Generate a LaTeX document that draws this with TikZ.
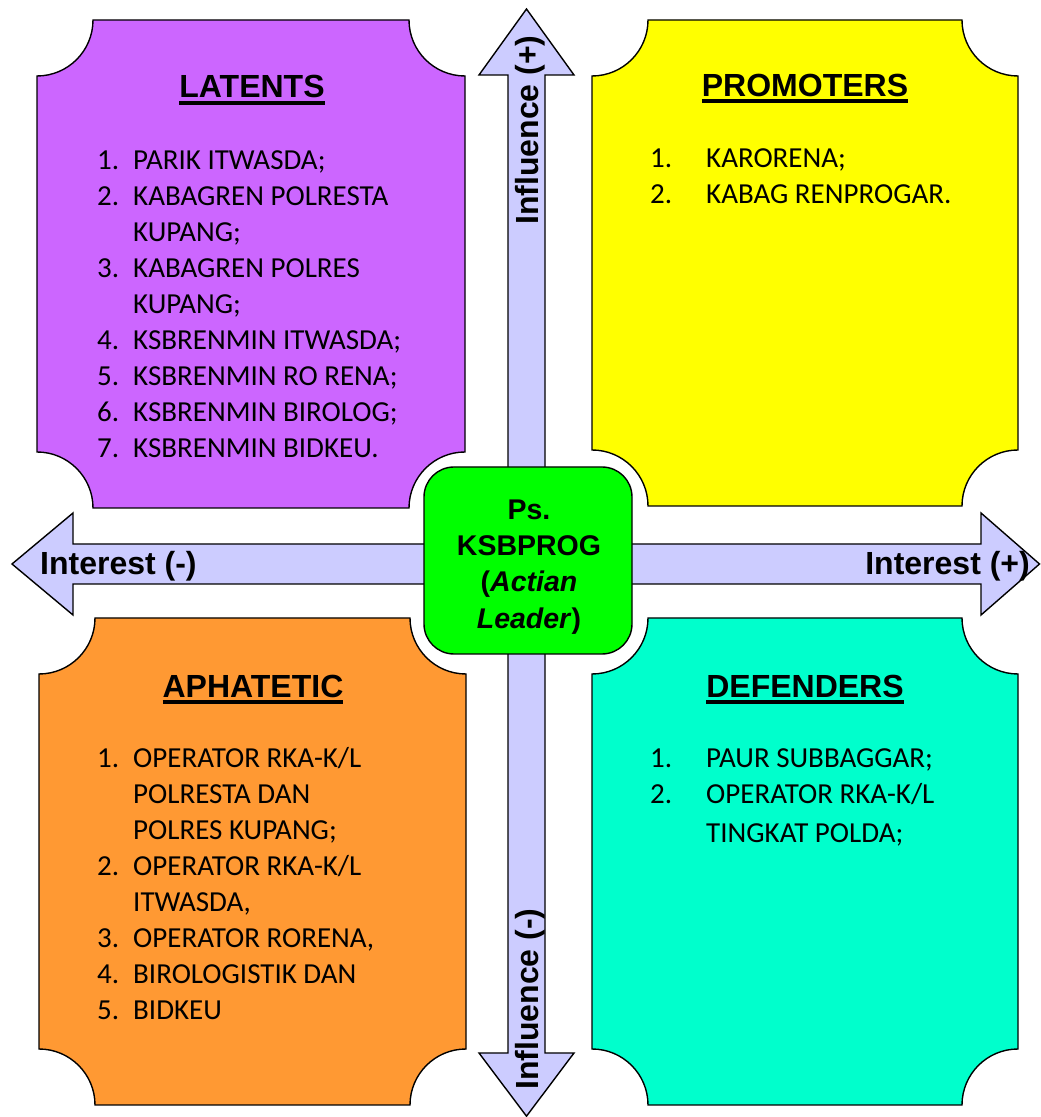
\documentclass[tikz,border=0pt]{standalone}
\usepackage{fontspec}
\setmainfont{Carlito}
\newfontfamily\arialf{Liberation Sans}
\definecolor{latc}{HTML}{CC66FF}
\definecolor{proc}{HTML}{FFFF00}
\definecolor{aphc}{HTML}{FF9933}
\definecolor{defc}{HTML}{00FFCC}
\definecolor{cenc}{HTML}{00FF00}
\definecolor{arrc}{HTML}{CCCCFF}
\newcommand\ulx[1]{\setbox0\hbox{#1}\rlap{\rule[-7pt]{\wd0}{4pt}}\box0}
\newcommand\plaque[5]{%
 \draw[boxline,fill=#5] ({#1+56},#4) -- ({#3-56},#4) arc[start angle=180,end angle=270,radius=56]
 -- (#3,{#2+56}) arc[start angle=90,end angle=180,radius=56]
 -- ({#1+56},#2) arc[start angle=0,end angle=90,radius=56]
 -- (#1,{#4-56}) arc[start angle=270,end angle=360,radius=56] -- cycle;}
\newcommand\nb[1]{\makebox[36pt][l]{#1}}
\newcommand\nbw[1]{\makebox[56pt][l]{#1}}
\begin{document}
\begin{tikzpicture}[x=1pt,y=1pt,
  boxline/.style={draw=black,line width=1.4pt},
  arrowshape/.style={draw=black,line width=1.4pt,fill=arrc,line join=miter},
  titletext/.style={font=\arialf\bfseries\fontsize{32}{36}\selectfont,inner sep=0pt},
  listtext/.style={font=\fontsize{29}{36}\selectfont,inner sep=0pt,align=left},
  axistext/.style={font=\arialf\bfseries\fontsize{32}{36}\selectfont,inner sep=0pt},
  centerbox/.style={draw=black,line width=1.4pt,fill=cenc,rounded corners=30pt,
    minimum width=208pt,minimum height=187pt,inner sep=0pt},
  centertext/.style={inner sep=0pt,align=center,
    font=\arialf\bfseries\fontsize{28.5}{36.3}\selectfont}]
\useasboundingbox (0,0) rectangle (1041,1117);
% arrows
\draw[arrowshape] (508,557) -- (508,1042) -- (479,1042) -- (526.5,1108) -- (574,1042) -- (545,1042) -- (545,557) -- cycle;
\draw[arrowshape] (508,557) -- (508,64) -- (479,64) -- (526.5,0.8) -- (574,64) -- (545,64) -- (545,557) -- cycle;
\draw[arrowshape] (528,573) -- (73,573) -- (73,604) -- (12,553) -- (73,502) -- (73,533) -- (528,533) -- cycle;
\draw[arrowshape] (528,573) -- (981,573) -- (981,604) -- (1039.5,553) -- (981,502) -- (981,533) -- (528,533) -- cycle;
% quadrant boxes
\plaque{37}{609}{465}{1097}{latc}
\plaque{592}{611}{1018}{1097}{proc}
\plaque{39}{12}{466}{499}{aphc}
\plaque{592}{12}{1018}{499}{defc}
% center
\node[centerbox] (ctr) at (528,556.5) {};
\node[centertext] (ctrt) at (529,550) {Ps.\\KSBPROG\\(\textit{Actian}\\\textit{Leader})};
% axis labels
\node[axistext,anchor=base west] (intm) at (40,542) {Interest (-)};
\node[axistext,anchor=base east] (intp) at (1030,542) {Interest (+)};
\node[axistext,anchor=base west,rotate=90] (infp) at (538,892) {Influence (+)};
\node[axistext,anchor=base west,rotate=90] (infm) at (538,27) {Influence (-)};
% titles
\node[titletext,anchor=base] (tlat) at (252,1019) {\ulx{LATENTS}};
\node[titletext,anchor=base] (tpro) at (805,1020.5) {\ulx{PROMOTERS}};
\node[titletext,anchor=base] (taph) at (253,419.5) {\ulx{APHATETIC}};
\node[titletext,anchor=base] (tdef) at (805,419.5) {\ulx{DEFENDERS}};
% lists
\node[listtext,anchor=base west] (llat) at (97,947.5) {%
\begin{tabular}[t]{@{}l@{}l@{}}
\nb{1.} & PARIK ITWASDA;\\
\nb{2.} & KABAGREN POLRESTA\\
 & KUPANG;\\
\nb{3.} & KABAGREN POLRES\\
 & KUPANG;\\
\nb{4.} & KSBRENMIN ITWASDA;\\
\nb{5.} & KSBRENMIN RO RENA;\\
\nb{6.} & KSBRENMIN BIROLOG;\\
\nb{7.} & KSBRENMIN BIDKEU.
\end{tabular}};
\node[listtext,anchor=base west] (lpro) at (650,949.5) {%
\begin{tabular}[t]{@{}l@{}l@{}}
\nbw{1.} & KARORENA;\\
\nbw{2.} & KABAG RENPROGAR.
\end{tabular}};
\node[listtext,anchor=base west] (laph) at (97,349.5) {%
\begin{tabular}[t]{@{}l@{}l@{}}
\nb{1.} & OPERATOR RKA-K/L\\
 & POLRESTA DAN\\
 & POLRES KUPANG;\\
\nb{2.} & OPERATOR RKA-K/L\\
 & ITWASDA,\\
\nb{3.} & OPERATOR RORENA,\\
\nb{4.} & BIROLOGISTIK DAN\\
\nb{5.} & BIDKEU
\end{tabular}};
\node[listtext,anchor=base west] (ldef) at (650,349.5) {%
\begin{tabular}[t]{@{}l@{}l@{}}
\nbw{1.} & PAUR SUBBAGGAR;\\
\nbw{2.} & OPERATOR RKA-K/L\\[3pt]
 & TINGKAT POLDA;
\end{tabular}};
\end{tikzpicture}
\end{document}
